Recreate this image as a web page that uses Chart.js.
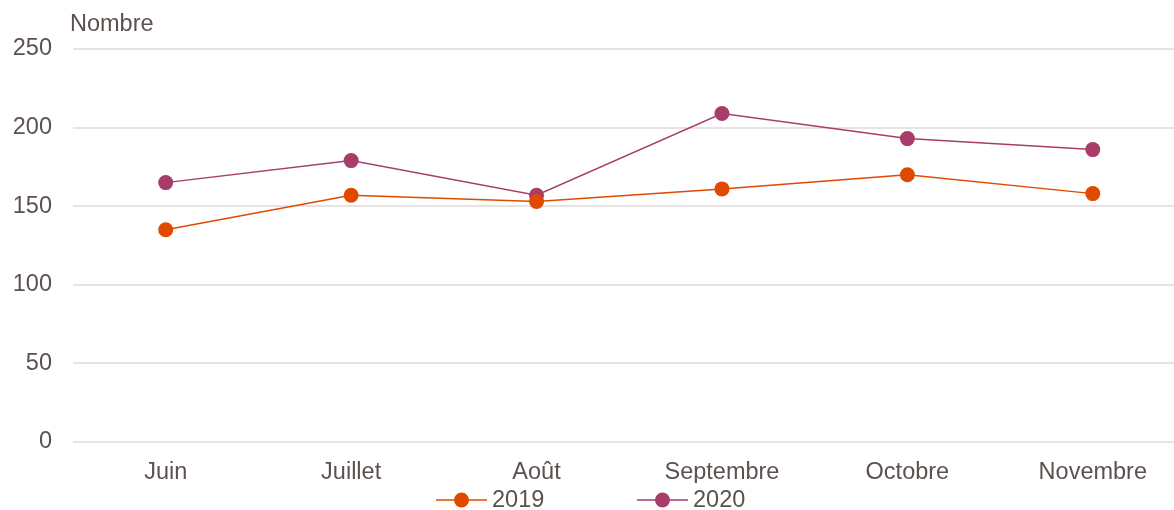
<!DOCTYPE html>
<html>
<head>
<meta charset="utf-8">
<script src="https://cdn.jsdelivr.net/npm/chart.js@4/dist/chart.umd.min.js"></script>
<style>
  html, body { margin: 0; padding: 0; background: #fff; overflow: hidden; }
  #wrap { position: relative; width: 1193px; height: 510px; }
</style>
</head>
<body>
<div id="wrap"><canvas id="chart"></canvas></div>
<script>
// Data
const months = ["Juin", "Juillet", "Août", "Septembre", "Octobre", "Novembre"];
const values2019 = [135, 157, 153, 161, 170, 158];
const values2020 = [165, 179, 157, 209, 193, 186];
const seriesNames = ["2019", "2020"];
const yTitle = "Nombre";

const textColor = "#5b514f";
const gridColor = "#e8e3e3";
const colors = ["#e04a00", "#a83c6a"];
const fontFamily = "'Liberation Sans', Arial, sans-serif";
const fontSize = 23.5;

// "Nombre" label above the y axis
const yTitlePlugin = {
  id: "yTitle",
  afterDraw(chart) {
    const ctx = chart.ctx;
    ctx.save();
    ctx.font = `${fontSize}px ${fontFamily}`;
    ctx.fillStyle = textColor;
    ctx.textAlign = "left";
    ctx.textBaseline = "middle";
    ctx.fillText(yTitle, chart.chartArea.left - 3, 25);
    ctx.restore();
  }
};

// Legend with a line through the marker, like the office chart
const lineLegendPlugin = {
  id: "lineLegend",
  afterDraw(chart) {
    const ctx = chart.ctx;
    const lineLen = 51, textGap = 5, step = 201, x0 = 436, y = 500;
    ctx.save();
    ctx.font = `${fontSize}px ${fontFamily}`;
    chart.data.datasets.forEach((ds, i) => {
      const x = x0 + i * step;
      ctx.strokeStyle = ds.borderColor;
      ctx.lineWidth = 1.5;
      ctx.beginPath();
      ctx.moveTo(x, y);
      ctx.lineTo(x + lineLen, y);
      ctx.stroke();
      ctx.fillStyle = ds.pointBackgroundColor;
      ctx.beginPath();
      ctx.arc(x + lineLen / 2, y, 7.5, 0, Math.PI * 2);
      ctx.fill();
      ctx.fillStyle = textColor;
      ctx.textAlign = "left";
      ctx.textBaseline = "middle";
      ctx.fillText(ds.label, x + lineLen + textGap, y + 1);
    });
    ctx.restore();
  }
};

function makeDataset(label, data, color) {
  return {
    label,
    data,
    borderColor: color,
    backgroundColor: color,
    pointBackgroundColor: color,
    pointBorderColor: color,
    borderWidth: 1.5,
    pointRadius: 7.5,
    pointBorderWidth: 0,
    pointHoverRadius: 7.5,
    tension: 0,
    fill: false
  };
}

new Chart(document.getElementById("chart").getContext("2d"), {
  type: "line",
  data: {
    labels: months,
    datasets: [
      makeDataset(seriesNames[0], values2019, colors[0]),
      makeDataset(seriesNames[1], values2020, colors[1])
    ]
  },
  options: {
    responsive: true,
    maintainAspectRatio: false,
    animation: false,
    layout: { padding: { top: 49, bottom: 27, left: 0, right: 0 } },
    scales: {
      x: {
        offset: true,
        grid: { display: false, drawTicks: false },
        border: { display: false },
        afterFit(scale) { scale.height = 41; },
        ticks: {
          color: textColor,
          padding: 16,
          maxRotation: 0,
          font: { family: fontFamily, size: fontSize }
        }
      },
      y: {
        min: 0,
        max: 250,
        grid: { color: gridColor, lineWidth: 2, drawTicks: false },
        border: { display: false },
        afterFit(scale) { scale.width = 73; },
        ticks: {
          stepSize: 50,
          color: textColor,
          padding: 21,
          font: { family: fontFamily, size: fontSize }
        }
      }
    },
    plugins: {
      legend: { display: false },
      tooltip: { enabled: false }
    }
  },
  plugins: [yTitlePlugin, lineLegendPlugin]
});
</script>
</body>
</html>
